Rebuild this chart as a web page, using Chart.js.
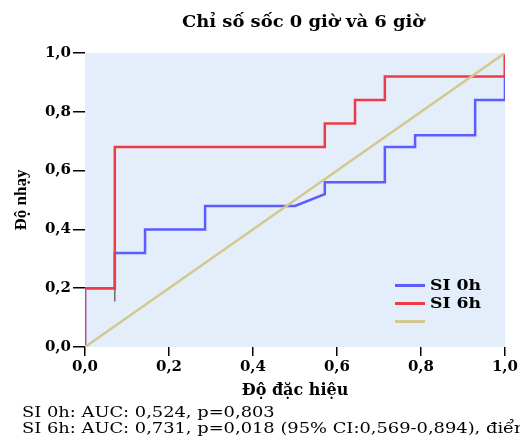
<!DOCTYPE html>
<html>
<head>
<meta charset="utf-8">
<script src="https://cdn.jsdelivr.net/npm/chart.js@4"></script>
<style>
  body { margin: 0; background: #fff; }
  #wrap { position: relative; width: 520px; height: 441px; overflow: hidden; }
  #title { position: absolute; left: 182px; top: 12px; white-space: nowrap;
           font: bold 16px "DejaVu Serif", serif; color: #000;
           transform: scale(1.12, 1); transform-origin: left top; }
  .lg { position: absolute; left: 395px; width: 30px; height: 2.5px; }
  .lgt { position: absolute; left: 430px; font: bold 15px "DejaVu Serif", serif; color: #000; line-height: 16px;
         transform: scale(1.15, 1); transform-origin: left top; }
  #notes { position: absolute; left: 22px; top: 404px; white-space: nowrap;
           font: 15px "DejaVu Serif", serif; line-height: 16px; color: #000;
           transform: scale(1.19, 1); transform-origin: left top; }
</style>
</head>
<body>
<div id="wrap">
  <canvas id="roc" width="520" height="441"></canvas>
  <div id="title">Chỉ số sốc 0 giờ và 6 giờ</div>
  <div class="lg" style="top:284px;background:#5c5cff"></div>
  <div class="lgt" style="top:277px">SI 0h</div>
  <div class="lg" style="top:302px;background:#ee3b45"></div>
  <div class="lgt" style="top:295px">SI 6h</div>
  <div class="lg" style="top:320px;background:#d3c98e"></div>
  <div id="notes">SI 0h: AUC: 0,524, p=0,803<br>SI 6h: AUC: 0,731, p=0,018 (95% CI:0,569-0,894), điểm cắt</div>
</div>
<script>
// 1 - độ đặc hiệu (trục x) và độ nhạy (trục y)
var si6X = [0, 0, 0.071, 0.071, 0.571, 0.571, 0.643, 0.643, 0.714, 0.714, 1, 1];
var si6Y = [0, 0.2, 0.2, 0.68, 0.68, 0.76, 0.76, 0.84, 0.84, 0.92, 0.92, 1];

var si0X = [0, 0, 0.071, 0.071, 0.143, 0.143, 0.286, 0.286, 0.5, 0.571, 0.571, 0.714, 0.714, 0.786, 0.786, 0.929, 0.929, 1, 1];
var si0Y = [0, 0.2, 0.2, 0.32, 0.32, 0.40, 0.40, 0.48, 0.48, 0.52, 0.56, 0.56, 0.68, 0.68, 0.72, 0.72, 0.84, 0.84, 1];

// đường tham chiếu
var refX = [0, 1];
var refY = [0, 1];

// đoạn xám nhỏ ở 0,071
var tieX = [0.071, 0.071];
var tieY = [0.2, 0.155];

var tickVals = [0, 0.2, 0.4, 0.6, 0.8, 1.0];

function pts(xs, ys) {
  return xs.map(function (x, i) { return { x: x, y: ys[i] }; });
}
function fmt(v) { return v.toFixed(1).replace('.', ','); }

var plotBg = {
  id: 'plotBg',
  beforeDraw: function (chart) {
    var a = chart.chartArea, c = chart.ctx;
    c.save();
    c.fillStyle = '#e3eefa';
    c.fillRect(a.left, a.top, a.right - a.left, a.bottom - a.top);
    c.restore();
  }
};

var tickFont = { family: 'DejaVu Serif', size: 15, weight: 'bold' };

var ctx = document.getElementById('roc').getContext('2d');
var chart = new Chart(ctx, {
  type: 'line',
  data: {
    datasets: [
      { label: '', data: pts(refX, refY), borderColor: '#d3c98e', borderWidth: 2.5, order: 0 },
      { label: 'SI 6h', data: pts(si6X, si6Y), borderColor: '#ee3b45', borderWidth: 2.5, order: 1, clip: 0 },
      { label: 'tie', data: pts(tieX, tieY), borderColor: '#6b6b6b', borderWidth: 1.5, order: 2 },
      { label: 'SI 0h', data: pts(si0X, si0Y), borderColor: '#5c5cff', borderWidth: 2.5, order: 3, clip: 0 }
    ]
  },
  options: {
    responsive: false,
    animation: false,
    elements: { point: { radius: 0 }, line: { tension: 0, fill: false } },
    layout: { padding: { top: 53, right: 15, bottom: 41, left: 0 } },
    plugins: { legend: { display: false }, tooltip: { enabled: false } },
    scales: {
      x: {
        type: 'linear', min: 0, max: 1,
        afterBuildTicks: function (s) { s.ticks = tickVals.map(function (v) { return { value: v }; }); },
        afterFit: function (s) { s.height = 53; },
        ticks: { color: '#000', font: tickFont, padding: 2, callback: fmt, maxRotation: 0 },
        grid: { drawOnChartArea: false, drawTicks: true, tickLength: 9, color: '#000', lineWidth: 1.5 },
        border: { display: false },
        title: { display: true, text: 'Độ đặc hiệu', color: '#000', font: { family: 'DejaVu Serif', size: 16, weight: 'bold' }, padding: 0 }
      },
      y: {
        type: 'linear', min: 0, max: 1,
        afterBuildTicks: function (s) { s.ticks = tickVals.map(function (v) { return { value: v }; }); },
        afterFit: function (s) { s.width = 85; },
        ticks: { color: '#000', font: tickFont, padding: 2, callback: fmt },
        grid: { drawOnChartArea: false, drawTicks: true, tickLength: 12, color: '#000', lineWidth: 1.5 },
        border: { display: false },
        title: { display: true, text: 'Độ nhạy', color: '#000', font: { family: 'Liberation Serif', size: 17, weight: 'bold' }, padding: { top: 11, bottom: 0 } }
      }
    }
  },
  plugins: [plotBg]
});
</script>
</body>
</html>
